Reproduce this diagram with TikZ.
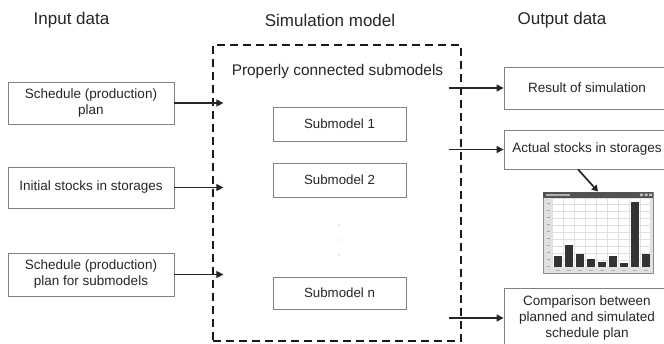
\documentclass[tikz,border=0pt]{standalone}
\usepackage{fontspec}
\setmainfont{Liberation Sans}
\usetikzlibrary{arrows.meta}
\begin{document}
\begin{tikzpicture}[x=1pt,y=-1pt,
  box/.style={draw=black!50, line width=0.8pt, fill=white, minimum width=166pt, align=center,
    font=\fontsize{13.5}{16}\selectfont, text=black!85, inner sep=0pt},
  sub/.style={draw=black!50, line width=0.8pt, fill=white, minimum width=133pt,
    font=\fontsize{13.3}{16}\selectfont, text=black!85, inner sep=0pt},
  title/.style={font=\fontsize{17}{20}\selectfont, text=black!85, inner sep=0pt},
  arr/.style={-{Triangle[length=7pt,width=7pt]}, line width=1.1pt, draw=black!85},
  dashbox/.style={draw=black!90, line width=2pt, dash pattern=on 8pt off 5pt, inner sep=0pt},
  chartwin/.style={draw=black!45, line width=1pt, fill=black!12, inner sep=0pt}]
\clip (0,0) rectangle (664,343);
\fill[white] (0,0) rectangle (664,343);

% titles
\node[title] (tin) at (71.5,20) {Input data};
\node[title] (tsim) at (330,20) {Simulation model};
\node[title] (tout) at (562,20) {Output data};

% simulation model container
\node[dashbox, minimum width=248pt, minimum height=296pt] (model) at (337,193) {};
\node[font=\fontsize{15.4}{18}\selectfont, text=black!85, inner sep=0pt] (pcs) at (337.5,72) {Properly connected submodels};

% input boxes
\node[box, minimum height=42pt] (in1) at (91,103) {Schedule (production)\\plan};
\node[box, minimum height=41pt] (in2) at (91,187.5) {Initial stocks in storages};
\node[box, minimum height=43pt] (in3) at (91,274.5) {Schedule (production)\\plan for submodels};

\path (in1.east) ++(49,0) coordinate (t1);
\path (in2.east) ++(49,0) coordinate (t2);
\path (in3.east) ++(49,0) coordinate (t3);
\draw[arr] (in1.east) -- (t1);
\draw[arr] (in2.east) -- (t2);
\draw[arr] (in3.east) -- (t3);

% submodels
\node[sub, minimum height=34pt] (s1) at (339.5,124) {Submodel 1};
\node[sub, minimum height=34pt] (s2) at (339.5,180) {Submodel 2};
\node[sub, minimum height=32pt] (sn) at (339.5,293) {Submodel n};
\fill[black!35] (339,225) circle (0.6) (339,240) circle (0.6) (339,255) circle (0.6);

% output boxes
\node[box, minimum height=42pt] (o1) at (587,88) {Result of simulation};
\node[box, minimum height=39pt] (o2) at (587,149.5) {Actual stocks in storages};
\node[box, minimum height=60pt] (o3) at (587,318) {Comparison between\\planned and simulated\\schedule plan};

\path (o1.west) ++(-55,0) coordinate (r1);
\path (o2.west) ++(-55,0) coordinate (r2);
\path (o3.west) ++(-55,0) coordinate (r3);
\draw[arr] (r1) -- (o1.west);
\draw[arr] (r2) -- (o2.west);
\draw[arr] (r3) -- (o3.west);

% chart window
\node[chartwin, minimum width=110pt, minimum height=81pt] (chart) at (598,232.5) {};
\fill[black!68] (543,192) rectangle (653,197.5);
\fill[black!25] (640,193.5) rectangle (643,196) (644.5,193.5) rectangle (647.5,196) (649,193.5) rectangle (652,196);
\fill[black!30] (546,194) rectangle (570,195.5);
\fill[white] (552,199) rectangle (650,267);
\foreach \i in {0,...,9} \draw[black!12, line width=0.5pt] (552+11*\i,199) -- (552+11*\i,267);
\foreach \j in {0,...,9} {
  \draw[black!12, line width=0.5pt] (552,267-7*\j) -- (650,267-7*\j);
  \draw[black!35, line width=0.6pt] (546.5,266-7*\j) -- (549.5,266-7*\j);
}
\foreach \i/\t in {0/256,1/245,2/254,3/259,4/262,5/256,6/263,7/202,8/254} {
  \fill[black!80] (553.5+11*\i,\t) rectangle (561.5+11*\i,266.5);
  \draw[black!30, line width=0.6pt] (555.5+11*\i,270) -- (559.5+11*\i,270);
}
\path (o2.south) ++(-9,0) coordinate (a0);
\draw[-{Triangle[length=6pt,width=7pt]}, line width=1.7pt, draw=black!85] (a0) -- (chart.north);
\end{tikzpicture}
\end{document}
